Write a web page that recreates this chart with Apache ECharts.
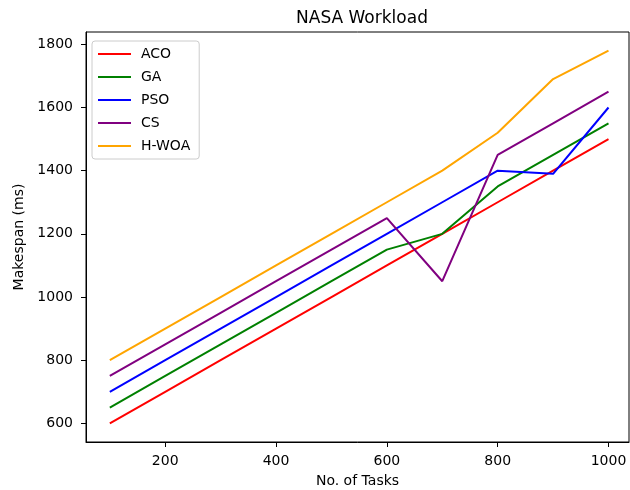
<!DOCTYPE html>
<html>
<head>
<meta charset="utf-8">
<script src="https://cdn.jsdelivr.net/npm/echarts@6/dist/echarts.min.js"></script>
<style>
html,body{margin:0;padding:0;background:#fff;}
#chart{width:630px;height:490px;}
</style>
</head>
<body>
<div id="chart"></div>
<script>
// 数据
var tasks=[100,200,300,400,500,600,700,800,900,1000];
var aco=[600,700,800,900,1000,1100,1200,1300,1400,1500];
var ga=[650,750,850,950,1050,1150,1200,1350,1450,1550];
var pso=[700,800,900,1000,1100,1200,1300,1400,1390,1600];
var cs=[750,850,950,1050,1150,1250,1050,1450,1550,1650];
var hwoa=[800,900,1000,1100,1200,1300,1400,1520,1690,1780];
var xTicks=[200,400,600,800,1000];
var yTicks=[600,800,1000,1200,1400,1600,1800];

var names=['ACO','GA','PSO','CS','H-WOA'];
var colors=['#ff0000','#008000','#0000ff','#800080','#ffa500'];
var values=[aco,ga,pso,cs,hwoa];

function pairs(arr){
	var out=[];
	for(var i=0;i<tasks.length;i++){
		out.push([tasks[i],arr[i]]);
	}
	return out;
}

var font='DejaVu Sans';
var series=[];
for(var i=0;i<names.length;i++){
	series.push({
		name:names[i],
		type:'line',
		symbol:'none',
		data:pairs(values[i]),
		lineStyle:{color:colors[i],width:2},
		itemStyle:{color:colors[i]}
	});
}

var chart=echarts.init(document.getElementById('chart'));
var option={
	animation:false,
	backgroundColor:'#fff',
	title:{
		text:'NASA Workload',
		left:357,
		top:5,
		textAlign:'center',
		textStyle:{fontFamily:font,fontSize:17,fontWeight:'normal',color:'#000'}
	},
	legend:{
		orient:'vertical',
		left:92,
		top:41,
		padding:[6,9,6,5],
		itemWidth:33,
		itemHeight:14,
		itemGap:9,
		itemStyle:{opacity:0},
		lineStyle:{width:2},
		backgroundColor:'rgba(255,255,255,0.8)',
		borderColor:'#cccccc',
		borderWidth:1,
		borderRadius:3,
		textStyle:{fontFamily:font,fontSize:14,color:'#000',padding:[0,0,0,5]},
		data:names
	},
	grid:{
		left:86,
		right:1,
		top:32,
		bottom:48,
		show:true,
		borderColor:'#000',
		borderWidth:1,
		containLabel:false,
		outerBoundsMode:'none'
	},
	xAxis:{
		type:'value',
		min:57,
		max:1037,
		name:'No. of Tasks',
		nameLocation:'middle',
		nameGap:32,
		nameTextStyle:{fontFamily:font,fontSize:14,color:'#000'},
		axisLine:{show:true,lineStyle:{color:'#000',width:1}},
		axisTick:{show:true,length:5,lineStyle:{color:'#000'},customValues:xTicks},
		axisLabel:{fontFamily:font,fontSize:14,color:'#000',margin:12,customValues:xTicks,
			formatter:function(v){return String(v);}},
		splitLine:{show:false}
	},
	yAxis:{
		type:'value',
		min:541,
		max:1839,
		name:'Makespan (ms)',
		nameLocation:'middle',
		nameRotate:90,
		nameGap:50,
		nameTextStyle:{fontFamily:font,fontSize:14,color:'#000'},
		axisLine:{show:true,lineStyle:{color:'#000',width:1}},
		axisTick:{show:true,length:5,lineStyle:{color:'#000'},customValues:yTicks},
		axisLabel:{fontFamily:font,fontSize:14,color:'#000',margin:13,customValues:yTicks,
			formatter:function(v){return String(v);}},
		splitLine:{show:false}
	},
	series:series
};
chart.setOption(option);
</script>
</body>
</html>
